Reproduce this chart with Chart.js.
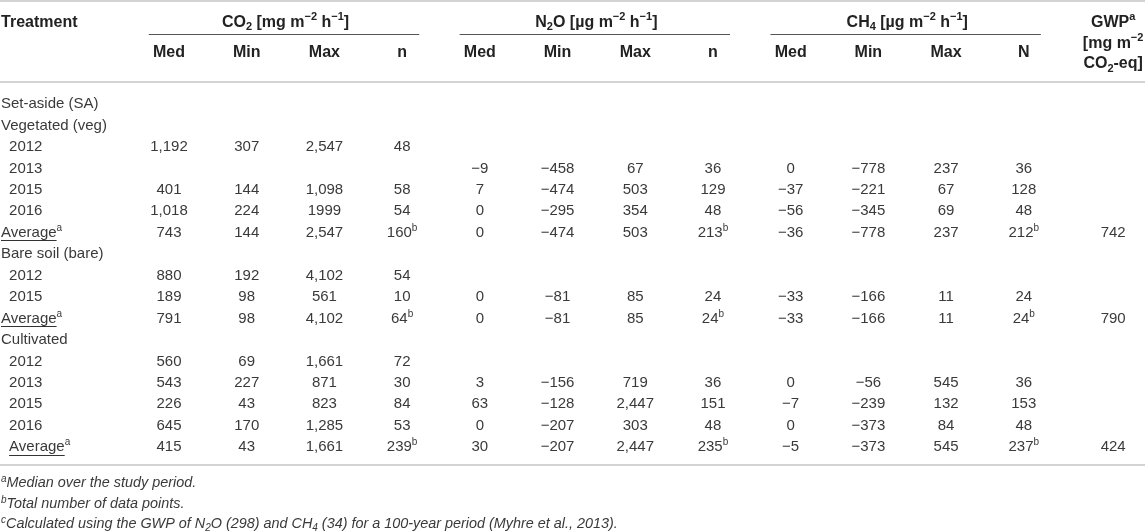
<!DOCTYPE html>
<html><head><meta charset="utf-8">
<script src="https://cdn.jsdelivr.net/npm/chart.js@4.4.1/dist/chart.umd.min.js"></script>
<style>html,body{margin:0;padding:0;background:#fff;}#wrap{position:relative;width:1145px;height:531px;}</style>
</head><body><div id="wrap"><canvas id="c"></canvas></div>
<script>
// ---------- data ----------
const rowLabels = ['Set-aside (SA)','Vegetated (veg)','2012','2013','2015','2016','Average',
  'Bare soil (bare)','2012','2015','Average','Cultivated','2012','2013','2015','2016','Average'];
const averageRows = [6,10,16];
const co2Med = [null,null,1192,null,401,1018,743,null,880,189,791,null,560,543,226,645,415];
const co2Min = [null,null,307,null,144,224,144,null,192,98,98,null,69,227,43,170,43];
const co2Max = [null,null,2547,null,1098,'1999',2547,null,4102,561,4102,null,1661,871,823,1285,1661];
const co2N   = [null,null,48,null,58,54,160,null,54,10,64,null,72,30,84,53,239];
const n2oMed = [null,null,null,-9,7,0,0,null,null,0,0,null,null,3,63,0,30];
const n2oMin = [null,null,null,-458,-474,-295,-474,null,null,-81,-81,null,null,-156,-128,-207,-207];
const n2oMax = [null,null,null,67,503,354,503,null,null,85,85,null,null,719,2447,303,2447];
const n2oN   = [null,null,null,36,129,48,213,null,null,24,24,null,null,36,151,48,235];
const ch4Med = [null,null,null,0,-37,-56,-36,null,null,-33,-33,null,null,0,-7,0,-5];
const ch4Min = [null,null,null,-778,-221,-345,-778,null,null,-166,-166,null,null,-56,-239,-373,-373];
const ch4Max = [null,null,null,237,67,69,237,null,null,11,11,null,null,545,132,84,545];
const ch4N   = [null,null,null,36,128,48,212,null,null,24,24,null,null,36,153,48,237];
const gwp    = [null,null,null,null,null,null,742,null,null,null,790,null,null,null,null,null,424];

const treatmentTitle = 'Treatment';
const groupTitles = ['CO_{2} [mg m^{−2} h^{−1}]','N_{2}O [µg m^{−2} h^{−1}]','CH_{4} [µg m^{−2} h^{−1}]'];
const subTitles = ['Med','Min','Max','n','Med','Min','Max','n','Med','Min','Max','N'];
const gwpTitle = ['GWP^{a}','[mg m^{−2}','CO_{2}-eq]'];
const footnotes = ['^{a}Median over the study period.','^{b}Total number of data points.',
  '^{c}Calculated using the GWP of N_{2}O (298) and CH_{4} (34) for a 100-year period (Myhre et al., 2013).'];

// ---------- layout (positions in scale units) ----------
const columns = [co2Med,co2Min,co2Max,co2N,n2oMed,n2oMin,n2oMax,n2oN,ch4Med,ch4Min,ch4Max,ch4N,gwp];
const countCols = [3,7,11];
const colX = [1,2,3,4,5,6,7,8,9,10,11,12,13.15];
const groupCols = [[0,3],[4,7],[8,11]];
const rowIndent = [0,0,1,1,1,1,0,0,1,1,0,0,1,1,1,1,1];
const L = {xMin:-1.175,xMax:13.56,yMin:-4.804,yMax:19.963,labelX:-1.162,indentX:-1.058,
  groupY:-3.8,subY:-2.38,gwpY:[-3.8,-2.82,-1.87],footY:[17.68,18.66,19.59],
  topRule:-4.76,groupRule:-3.22,headRule:-0.98,bottomRule:16.88,ruleL:-0.26,ruleR:0.22};

const FAMILY = "'Liberation Sans', Arial, Helvetica, sans-serif";
const TEXT = '#3a3a3a';

function fmt(v){
  if (typeof v === 'string') return v;
  return (v < 0 ? '−' : '') + Math.abs(v).toLocaleString('en-US');
}
function parseRich(s){
  const segs=[]; const re=/(\^|_)\{([^}]*)\}/g; let last=0,m;
  while((m=re.exec(s))){ if(m.index>last) segs.push({t:s.slice(last,m.index),k:0});
    segs.push({t:m[2],k:m[1]==='^'?1:-1}); last=re.lastIndex; }
  if(last<s.length) segs.push({t:s.slice(last),k:0});
  return segs;
}
function drawRich(ctx,s,x,y,align,st){
  const segs=parseRich(s);
  const f=(sz)=>`${st.style} ${st.weight} ${sz}px ${FAMILY}`;
  const small=Math.round(st.size*0.68);
  let w=0;
  segs.forEach(g=>{ctx.font=f(g.k?small:st.size); g.w=ctx.measureText(g.t).width; w+=g.w;});
  let cx = align==='center'? x-w/2 : x;
  const x0 = cx;
  ctx.fillStyle = st.color;
  ctx.textBaseline='alphabetic'; ctx.textAlign='left';
  segs.forEach(g=>{
    ctx.font=f(g.k?small:st.size);
    const dy = g.k===1 ? -st.size*0.40 : (g.k===-1 ? st.size*0.22 : 0);
    ctx.fillText(g.t,cx,y+dy); cx+=g.w;
  });
  return {x0, firstW: segs[0].k===0 ? segs[0].w : 0};
}

const styles = {
  body:{style:'normal',weight:'normal',size:15,color:TEXT},
  head:{style:'normal',weight:'bold',size:16,color:'#222'},
  foot:{style:'italic',weight:'normal',size:14.4,color:TEXT}
};

// ---------- build datasets ----------
const bodyCells = [];
columns.forEach((col,c)=>{
  col.forEach((v,r)=>{
    if (v===null) return;
    const sup = countCols.includes(c) && averageRows.includes(r) ? '^{b}' : '';
    bodyCells.push({x:colX[c], y:r, text:fmt(v)+sup, align:'center'});
  });
});
const labelCells = rowLabels.map((lab,r)=>{
  const avg = averageRows.includes(r);
  return {x: rowIndent[r]?L.indentX:L.labelX, y:r, text: lab+(avg?'^{a}':''), align:'left', underline:avg};
});
const headCells = [{x:L.labelX,y:L.groupY,text:treatmentTitle,align:'left'}];
groupTitles.forEach((t,g)=>{
  const [a,b]=groupCols[g];
  headCells.push({x:(colX[a]+colX[b])/2, y:L.groupY, text:t, align:'center'});
});
subTitles.forEach((t,c)=>headCells.push({x:colX[c], y:L.subY, text:t, align:'center'}));
gwpTitle.forEach((t,i)=>headCells.push({x:colX[12], y:L.gwpY[i], text:t, align:'center'}));
const footCells = footnotes.map((t,i)=>({x:L.labelX, y:L.footY[i], text:t, align:'left'}));

const rules = [
  {x0:L.xMin,x1:L.xMax,y:L.topRule,color:'#d4d4d4',w:2},
  {x0:L.xMin,x1:L.xMax,y:L.headRule,color:'#d4d4d4',w:2},
  {x0:L.xMin,x1:L.xMax,y:L.bottomRule,color:'#d4d4d4',w:2},
  ...groupCols.map(([a,b])=>({x0:colX[a]+L.ruleL,x1:colX[b]+L.ruleR,y:L.groupRule,color:'#555',w:1}))
];

const tablePlugin = {
  id:'tablePlugin',
  beforeDatasetsDraw(chart){
    const ctx=chart.ctx, xs=chart.scales.x, ys=chart.scales.y;
    ctx.save();
    rules.forEach(r=>{
      const y=Math.round(ys.getPixelForValue(r.y))+(r.w%2?0.5:0);
      ctx.strokeStyle=r.color; ctx.lineWidth=r.w;
      ctx.beginPath(); ctx.moveTo(xs.getPixelForValue(r.x0),y); ctx.lineTo(xs.getPixelForValue(r.x1),y); ctx.stroke();
    });
    ctx.restore();
  },
  afterDatasetsDraw(chart){
    const ctx=chart.ctx;
    ctx.save();
    chart.data.datasets.forEach((ds,i)=>{
      const meta=chart.getDatasetMeta(i);
      const st=styles[ds.textStyle];
      meta.data.forEach((el,j)=>{
        const raw=ds.data[j];
        const base=el.y+5.3;
        const res=drawRich(ctx,raw.text,el.x,base,raw.align,st);
        if(raw.underline){
          ctx.strokeStyle='#333'; ctx.lineWidth=1;
          const uy=Math.round(base+3.5)+0.5;
          ctx.beginPath(); ctx.moveTo(res.x0,uy); ctx.lineTo(res.x0+res.firstW,uy); ctx.stroke();
        }
      });
    });
    ctx.restore();
  }
};

const mk = (data,textStyle)=>({data,textStyle,pointRadius:0,pointHoverRadius:0,showLine:false,clip:false});

new Chart(document.getElementById('c'),{
  type:'scatter',
  data:{datasets:[mk(headCells,'head'),mk(labelCells,'body'),mk(bodyCells,'body'),mk(footCells,'foot')]},
  options:{
    responsive:true, maintainAspectRatio:false, animation:false, events:[],
    layout:{padding:0},
    plugins:{legend:{display:false},tooltip:{enabled:false}},
    scales:{
      x:{type:'linear',display:false,min:L.xMin,max:L.xMax},
      y:{type:'linear',display:false,reverse:true,min:L.yMin,max:L.yMax}
    }
  },
  plugins:[tablePlugin]
});
</script></body></html>
